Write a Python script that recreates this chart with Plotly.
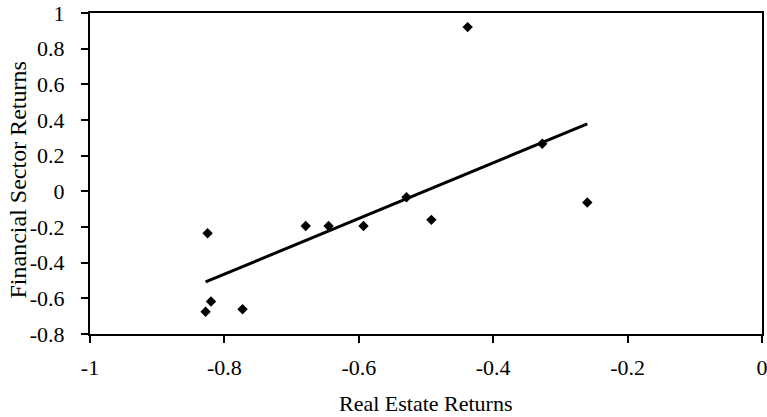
import numpy as np
import plotly.graph_objects as go

# Annual returns: real estate sector vs. financial sector
real_estate = [-0.438, -0.327, -0.260, -0.529, -0.492, -0.825, -0.679,
               -0.645, -0.593, -0.820, -0.828, -0.773]
financial = [0.921, 0.267, -0.063, -0.033, -0.160, -0.235, -0.194,
             -0.194, -0.194, -0.618, -0.675, -0.661]

x_ticks = [-1, -0.8, -0.6, -0.4, -0.2, 0]
x_labels = ["-1", "-0.8", "-0.6", "-0.4", "-0.2", "0"]
y_ticks = [-0.8, -0.6, -0.4, -0.2, 0, 0.2, 0.4, 0.6, 0.8, 1]
y_labels = ["-0.8", "-0.6", "-0.4", "-0.2", "0", "0.2", "0.4", "0.6", "0.8", "1"]

# Least-squares trend line spanning the observed real-estate range
slope, intercept = np.polyfit(real_estate, financial, 1)
fit_x = np.array([min(real_estate), max(real_estate)])
fit_y = slope * fit_x + intercept

FONT = "Liberation Serif"

fig = go.Figure()
fig.add_trace(go.Scatter(
    x=real_estate, y=financial, mode="markers",
    marker=dict(symbol="diamond", size=8, color="black"),
    showlegend=False,
))
fig.add_trace(go.Scatter(
    x=fit_x, y=fit_y, mode="lines",
    line=dict(color="black", width=3),
    showlegend=False,
))

axis_common = dict(
    showgrid=False, zeroline=False, showline=True, linecolor="black",
    linewidth=2, mirror=True, ticks="outside", ticklen=7, tickwidth=1.5,
    tickcolor="black", tickfont=dict(family=FONT, size=22, color="black"),
    automargin=False, ticklabeloverflow="allow",
)

fig.update_xaxes(range=[-1, 0], tickvals=x_ticks, ticktext=x_labels,
                 ticklabelstandoff=6, **axis_common)
fig.update_yaxes(range=[-0.8, 1], tickvals=y_ticks, ticktext=y_labels,
                 ticklabelstandoff=12, **axis_common)

# Axis titles
fig.add_annotation(text="Real Estate Returns", xref="paper", yref="paper",
                   x=0.5, y=0, xanchor="center", yanchor="middle", yshift=-69,
                   showarrow=False, font=dict(family=FONT, size=22, color="black"))
fig.add_annotation(text="Financial Sector Returns", xref="paper", yref="paper",
                   x=0, y=0.5, xanchor="center", yanchor="middle",
                   xshift=-73, yshift=-7, textangle=-90,
                   showarrow=False, font=dict(family=FONT, size=24, color="black"))

fig.update_layout(
    width=767, height=417,
    margin=dict(l=90, r=5, t=13, b=83),
    paper_bgcolor="white", plot_bgcolor="white",
)

fig.write_html("out.html")
